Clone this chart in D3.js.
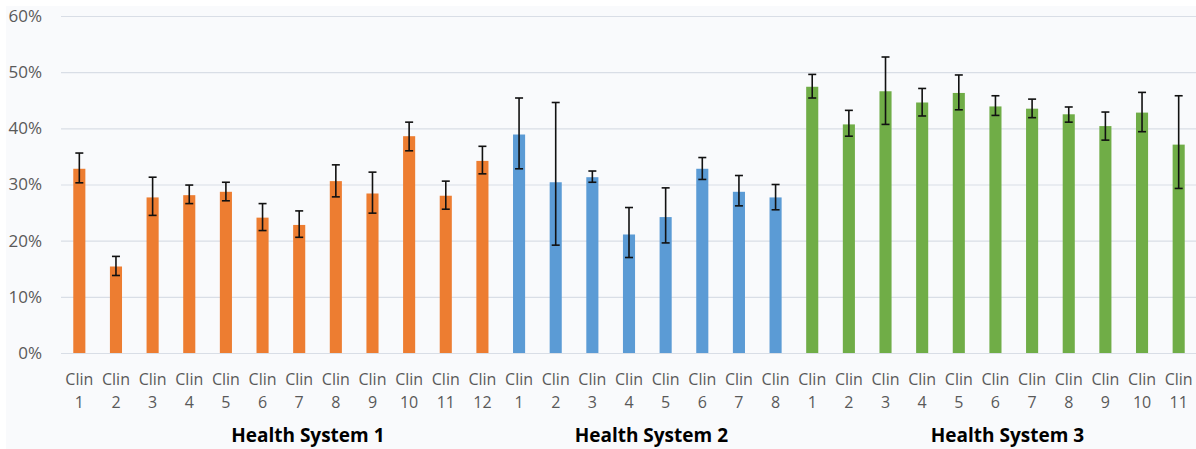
<!DOCTYPE html>
<html>
<head>
<meta charset="utf-8">
<script src="https://cdn.jsdelivr.net/npm/d3@7"></script>
<style>
  body { margin: 0; background: #fff; }
  svg { display: block; font-family: "Open Sans", sans-serif; }
</style>
</head>
<body>
<svg id="chart" width="1196" height="449"></svg>
<script>
// groups and their clinics
const groups = ["Health System 1", "Health System 2", "Health System 3"];
const clinicCounts = [12, 8, 11];
const colors = ["#ED7D31", "#5B9BD5", "#70AD47"];

// mean values (%) per clinic, in order
const values = [
  32.8, 15.4, 27.7, 28.1, 28.7, 24.1, 22.8, 30.6, 28.4, 38.6, 28.0, 34.2,
  38.9, 30.4, 31.3, 21.1, 24.2, 32.8, 28.7, 27.7,
  47.4, 40.7, 46.6, 44.6, 46.3, 43.9, 43.5, 42.5, 40.4, 42.8, 37.1
];
const errHigh = [
  35.6, 17.2, 31.3, 29.9, 30.4, 26.6, 25.3, 33.5, 32.2, 41.1, 30.6, 36.8,
  45.4, 44.6, 32.4, 25.9, 29.4, 34.8, 31.6, 30.0,
  49.6, 43.2, 52.7, 47.1, 49.5, 45.8, 45.2, 43.8, 42.9, 46.4, 45.8
];
const errLow = [
  30.3, 13.8, 24.5, 26.6, 27.1, 21.8, 20.6, 27.8, 24.9, 36.0, 25.6, 31.9,
  32.8, 19.2, 30.4, 17.0, 19.6, 30.9, 26.2, 25.5,
  45.4, 38.6, 40.7, 42.2, 43.3, 42.3, 41.9, 41.1, 37.9, 39.4, 29.3
];
const yTicks = [0, 10, 20, 30, 40, 50, 60];

// build rows
const rows = [];
clinicCounts.forEach((n, g) => {
  for (let i = 1; i <= n; i++) {
    const k = rows.length;
    rows.push({key: g + "-" + i, group: g, clinic: i,
      value: values[k], hi: errHigh[k], lo: errLow[k]});
  }
});

const svg = d3.select("#chart");
const W = +svg.attr("width"), H = +svg.attr("height");
const margin = {top: 16, right: -1, bottom: 96, left: 61};
const width = W - margin.left - margin.right;
const height = H - margin.top - margin.bottom;

svg.append("rect").attr("x", 6).attr("y", 6)
  .attr("width", W - 6).attr("height", H - 6).attr("fill", "#f9fafc");

const x = d3.scaleBand().domain(rows.map(d => d.key))
  .range([0, width]).paddingInner(0.67).paddingOuter(0.335);
const y = d3.scaleLinear().domain([0, 60]).range([height, 0]);

const g = svg.append("g")
  .attr("transform", `translate(${margin.left},${margin.top})`);

// grid
g.append("g").selectAll("line").data(yTicks).join("line")
  .attr("x1", 0).attr("x2", width)
  .attr("y1", d => y(d) + 0.5).attr("y2", d => y(d) + 0.5)
  .attr("stroke", "#d9dee6").attr("stroke-width", 1.2);

// y axis labels
const yAxis = g.append("g")
  .call(d3.axisLeft(y).tickValues(yTicks).tickFormat(d => d + "%").tickSize(0).tickPadding(19));
yAxis.select(".domain").remove();
yAxis.selectAll("text").attr("fill", "#595959").style("font-size", "17px")
  .style("font-family", "Open Sans, sans-serif");

// bars
g.append("g").selectAll("rect").data(rows).join("rect")
  .attr("x", d => x(d.key))
  .attr("width", x.bandwidth())
  .attr("y", d => y(d.value))
  .attr("height", d => y(0) - y(d.value))
  .attr("fill", d => colors[d.group]);

// error bars
const eb = g.append("g").attr("stroke", "#111").attr("stroke-width", 1.6).attr("fill", "none");
const cx = d => x(d.key) + x.bandwidth() / 2;
eb.selectAll("line.v").data(rows).join("line").attr("class", "v")
  .attr("x1", cx).attr("x2", cx)
  .attr("y1", d => y(d.hi)).attr("y2", d => y(d.lo));
["hi", "lo"].forEach(f => {
  eb.selectAll("line." + f).data(rows).join("line").attr("class", f)
    .attr("x1", d => cx(d) - 4).attr("x2", d => cx(d) + 4)
    .attr("y1", d => y(d[f])).attr("y2", d => y(d[f]));
});

// x labels
const xl = g.append("g").selectAll("text").data(rows).join("text")
  .attr("x", cx).attr("text-anchor", "middle")
  .attr("fill", "#595959").style("font-size", "16px");
xl.append("tspan").attr("x", cx).attr("y", height + 32).text("Clin");
xl.append("tspan").attr("x", cx).attr("y", height + 55).text(d => d.clinic);

// group labels
const labelShift = [27, 4, 12];
g.append("g").selectAll("text").data(groups).join("text")
  .attr("x", (d, i) => {
    const members = rows.filter(r => r.group === i);
    return (cx(members[0]) + cx(members[members.length - 1])) / 2 + labelShift[i];
  })
  .attr("y", height + 89)
  .attr("text-anchor", "middle")
  .attr("fill", "#000").style("font-size", "19px").style("font-weight", "bold")
  .text(d => d);
</script>
</body>
</html>
